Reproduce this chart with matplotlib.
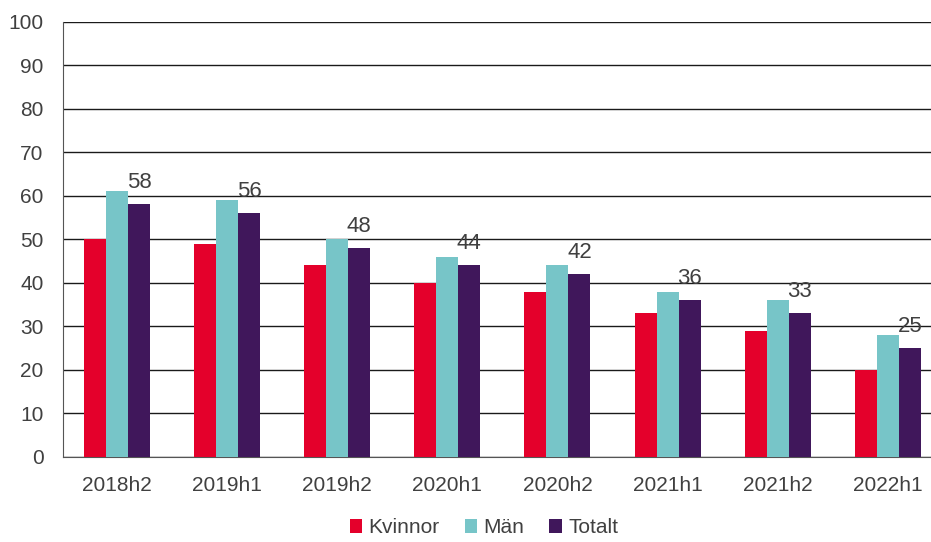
import numpy as np
import matplotlib.pyplot as plt

categories = ["2018h2", "2019h1", "2019h2", "2020h1", "2020h2", "2021h1", "2021h2", "2022h1"]
kvinnor = [50, 49, 44, 40, 38, 33, 29, 20]
man = [61, 59, 50, 46, 44, 38, 36, 28]
totalt = [58, 56, 48, 44, 42, 36, 33, 25]

plt.rcParams["font.family"] = ["Liberation Sans", "DejaVu Sans"]
text_col = "#404040"

fig = plt.figure(figsize=(9.31, 5.42), dpi=100)
ax = fig.add_axes([0.0677, 0.157, 0.945, 0.803])

x = np.arange(len(categories))
w = 0.2
ax.bar(x - w, kvinnor, w, color="#E4002B", label="Kvinnor", zorder=3)
ax.bar(x, man, w, color="#77C5C8", label="Män", zorder=3)
ax.bar(x + w, totalt, w, color="#40175B", label="Totalt", zorder=3)

# value labels on the total series
for xi, v in zip(x + w, totalt):
    ax.annotate(str(v), (xi, v), xytext=(0, 8), textcoords="offset points",
                ha="center", va="bottom", fontsize=16, color=text_col)

ax.set_xlim(-0.49, 7.5)
ax.set_ylim(0, 100)
ax.set_yticks(range(0, 101, 10))
ax.set_xticks(x)
ax.set_xticklabels(categories)
ax.tick_params(axis="both", labelsize=15, colors=text_col, length=0)
ax.tick_params(axis="x", pad=14)
ax.tick_params(axis="y", pad=14)
ax.grid(axis="y", color="#1a1a1a", linewidth=1, zorder=0)
for s in ["top", "right"]:
    ax.spines[s].set_visible(False)
ax.spines["left"].set_color("#555555")
ax.spines["bottom"].set_color("#555555")

fig.legend(loc="center", bbox_to_anchor=(0.52, 0.026), ncol=3, frameon=False,
           fontsize=15, handlelength=0.6, handleheight=0.6, handletextpad=0.3,
           columnspacing=1.2, labelcolor=text_col)

fig.savefig("out.png", dpi=100)
